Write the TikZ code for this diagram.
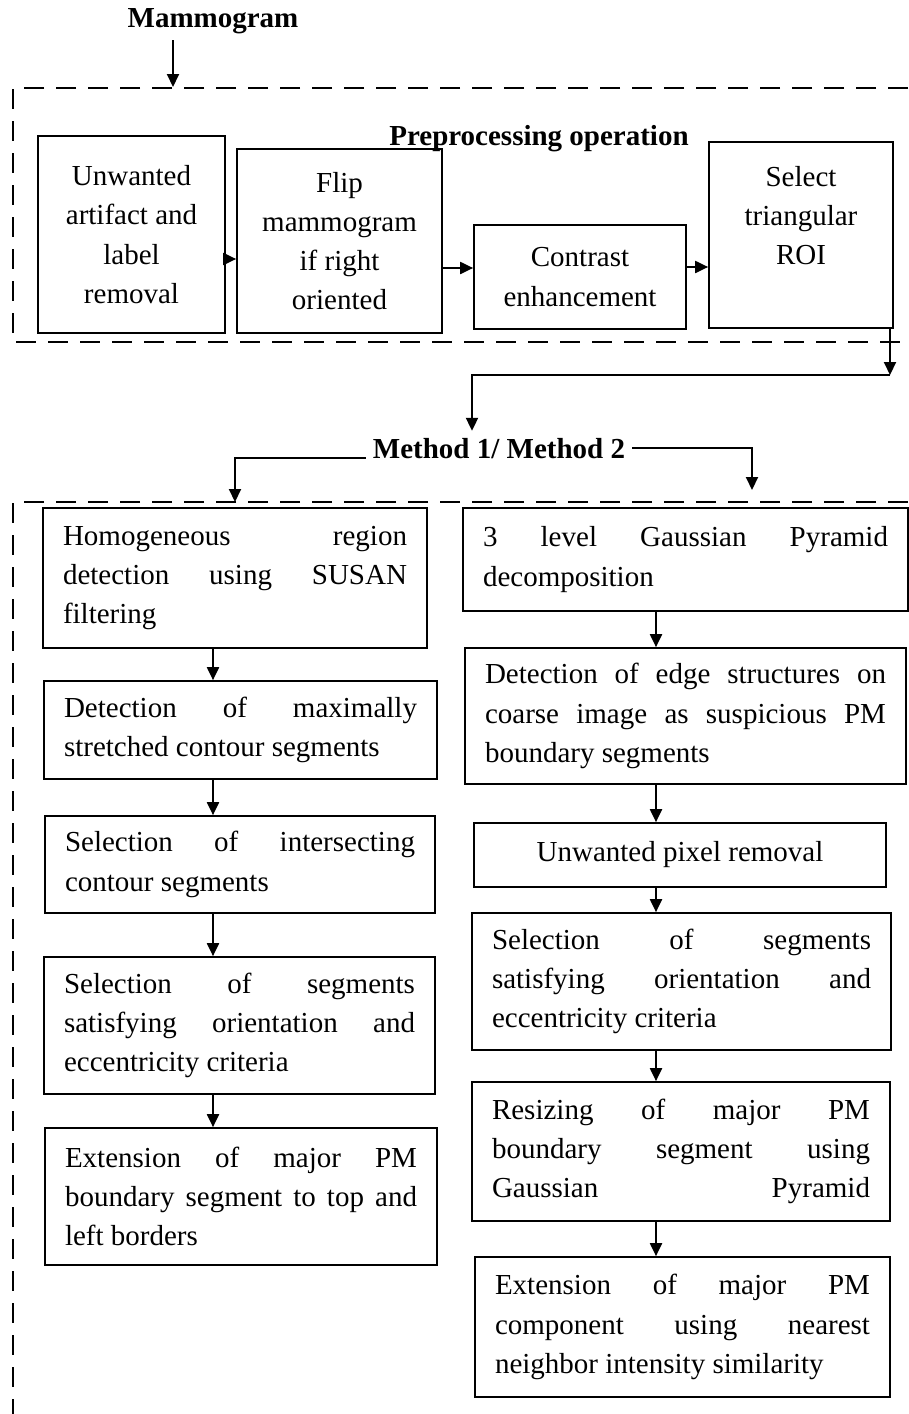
\documentclass[tikz,border=0pt]{standalone}
\usepackage{fontspec}
\setmainfont{Liberation Serif}
\usetikzlibrary{arrows.meta, positioning}
\newcommand{\boxfont}{\fontsize{14.5pt}{19.6pt}\selectfont\hyphenpenalty=10000\tolerance=10000\parindent=0pt}

\begin{document}
\begin{tikzpicture}[x=0.5pt, y=-0.5pt,
    proc/.style={draw, rectangle, line width=0.85pt, inner xsep=10pt, font=\boxfont},
    stepc/.style={proc, align=center},
    stepj/.style={proc, align=justify},
    title/.style={font=\boxfont\bfseries, anchor=base},
    frame/.style={dash pattern=on 10pt off 6pt, line width=1.35pt},
    arr/.style={-{Triangle[length=6.5pt,width=6pt]}, line width=1pt}]
    \useasboundingbox (0,0) rectangle (909,1414);
    \clip (0,0) rectangle (909,1414);

    % Input
    \node[title] (mammo) at (213,27) {Mammogram};
    \coordinate (mIn) at (173,87);

    % Preprocessing operation
    \draw[frame] (940,88) -- (13,88) -- (13,342) -- (940,342);
    \node[title] (prep) at (539,145) {Preprocessing operation};
    \node[stepc, minimum width=93.5pt, minimum height=98.5pt] (artifact) at (131.5,234.5) {Unwanted\\artifact and\\label\\removal};
    \node[stepc, minimum width=102.5pt, minimum height=92pt] (flip) at (339.5,241) {Flip\\mammogram\\if right\\oriented};
    \node[stepc, minimum width=106pt, minimum height=52pt] (contrast) at (580,277) {Contrast\\enhancement};
    \node[stepc, minimum width=92pt, minimum height=93pt] (roi) at (801,235) {Select\\triangular\\ROI\\\mbox{}};

    % Method selection
    \node[title] (method) at (499,458) {Method 1/ Method 2};
    \coordinate (jR) at (890,375);
    \coordinate (jL) at (472,375);
    \coordinate (inL) at (235,502);
    \coordinate (inR) at (752,490);
    \draw[frame] (940,502) -- (13,502) -- (13,1440);

    % Method 1
    \node[stepj, text width=172pt, minimum height=70pt] (susan) at (235,578) {Homogeneous region\linebreak detection using SUSAN\linebreak filtering};
    \node[stepj, text width=176.5pt, minimum height=49pt] (stretched) at (240.5,730) {Detection of maximally\linebreak stretched contour segments};
    \node[stepj, text width=175pt, minimum height=48.5pt] (intersect) at (240,864.5) {Selection of intersecting\linebreak contour segments};
    \node[stepj, text width=175.5pt, minimum height=68.5pt] (selectL) at (239.5,1025.5) {Selection of segments\linebreak satisfying orientation and\linebreak eccentricity criteria};
    \node[stepj, text width=176pt, minimum height=68.5pt] (extendL) at (241,1196.5) {Extension of major PM\linebreak boundary segment to top and\linebreak left borders};

    % Method 2
    \node[stepj, text width=202.5pt, minimum height=51.5pt] (pyramid) at (685.5,559.5) {3 level Gaussian Pyramid\linebreak decomposition};
    \node[stepj, text width=200.5pt, minimum height=68pt] (edges) at (685.5,716) {Detection of edge structures on\linebreak coarse image as suspicious PM\linebreak boundary segments};
    \node[stepc, minimum width=206pt, minimum height=32pt] (pixel) at (680,855) {Unwanted pixel removal};
    \node[stepj, text width=189.5pt, minimum height=68.5pt] (selectR) at (681.5,981.5) {Selection of segments\linebreak satisfying orientation and\linebreak eccentricity criteria};
    \node[stepj, text width=189pt, minimum height=69.5pt] (resize) at (681,1151.5) {Resizing of major PM\linebreak boundary segment using\linebreak Gaussian\hfill Pyramid};
    \node[stepj, text width=187.5pt, minimum height=70pt] (extendR) at (682.5,1327) {Extension of major PM\linebreak component using nearest\linebreak neighbor intensity similarity};

    % Connections
    \draw[arr] (mammo.south -| mIn) -- (mIn);
    \draw[arr] (artifact.east |- 0,259) -- (flip.west |- 0,259);
    \draw[arr] (flip.east |- 0,268) -- (contrast.west |- 0,268);
    \draw[arr] (contrast.east |- 0,267) -- (roi.west |- 0,267);
    \draw[arr] (roi.south -| jR) -- (jR);
    \draw[arr] (jR) -- (jL) -- (jL |- method.north);
    \draw[arr] (method.base west) -| (inL);
    \draw[arr] (method.east) -| (inR);

    \coordinate (colL) at (213,0);
    \coordinate (colR) at (656,0);
    \foreach \a/\b in {susan/stretched, stretched/intersect, intersect/selectL, selectL/extendL}
        \draw[arr] (\a.south -| colL) -- (\b.north -| colL);
    \foreach \a/\b in {pyramid/edges, edges/pixel, pixel/selectR, selectR/resize, resize/extendR}
        \draw[arr] (\a.south -| colR) -- (\b.north -| colR);
\end{tikzpicture}
\end{document}
